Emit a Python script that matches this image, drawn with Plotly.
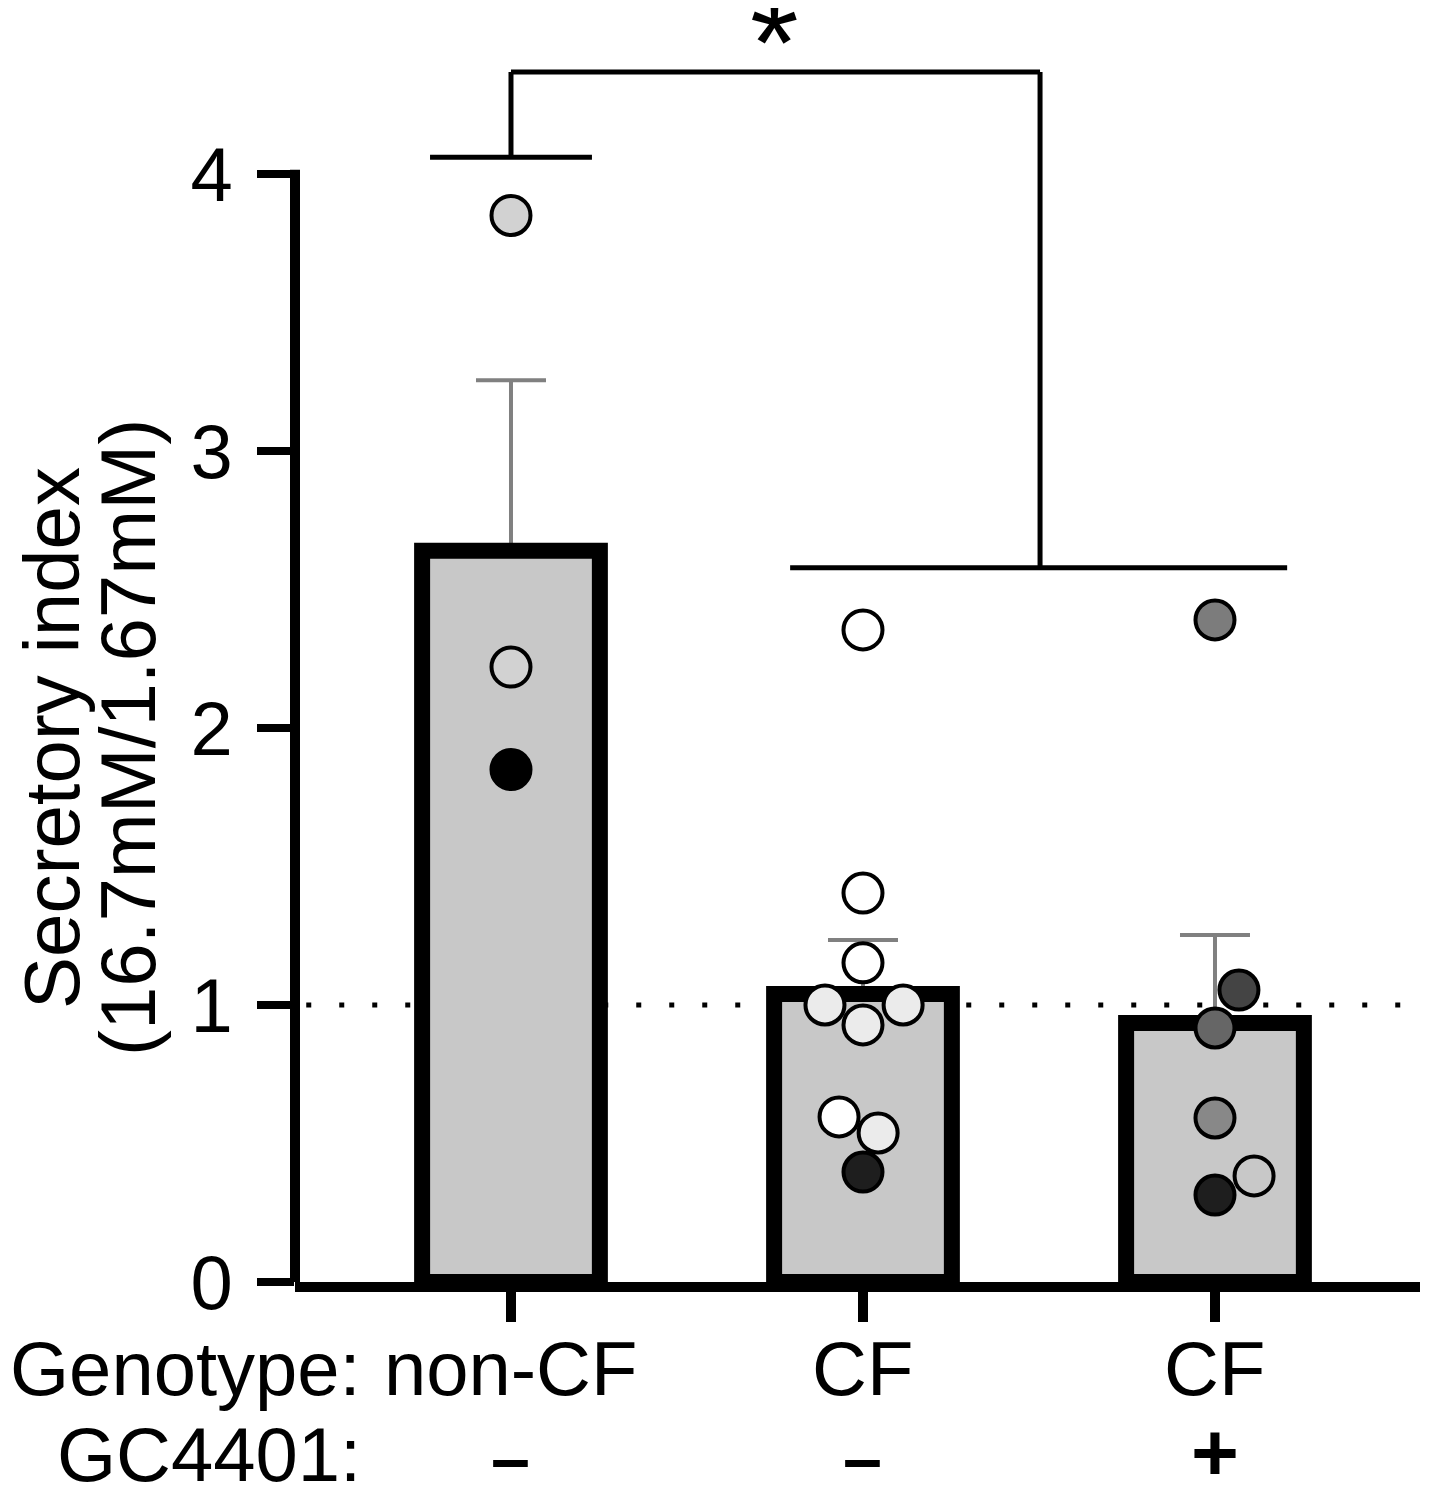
import plotly.graph_objects as go

# ---- data ----
groups = ["non-CF", "CF", "CF"]
treatment = ["–", "–", "+"]
group_pos = [0, 1, 2]
bar_means = [2.64, 1.04, 0.935]
bar_sem = [0.615, 0.195, 0.318]

noncf_y = [3.85, 2.22, 1.85]
noncf_dx = [0.0, 0.0, 0.0]
noncf_fill = ["#d2d2d2", "#d2d2d2", "#000000"]

cf_y = [2.354, 1.404, 1.152, 1.0, 1.0, 0.928, 0.596, 0.538, 0.397]
cf_dx = [0.0, 0.0, 0.0, -0.108, 0.114, 0.0, -0.068, 0.043, 0.0]
cf_fill = ["#ffffff", "#ffffff", "#ffffff", "#ebebeb", "#ebebeb", "#ebebeb",
           "#ffffff", "#ebebeb", "#1e1e1e"]

cfgc_y = [2.39, 1.054, 0.917, 0.592, 0.383, 0.314]
cfgc_dx = [0.0, 0.068, 0.0, 0.0, 0.111, 0.0]
cfgc_fill = ["#7c7c7c", "#444444", "#666666", "#888888", "#c8c8c8", "#1e1e1e"]

yticks = [0, 1, 2, 3, 4]
ref_line = 1.0
sig_low_left = 4.06
sig_top = 4.368
sig_low_right = 2.578

FONT = "Liberation Sans, Arial, sans-serif"
FS = 76

fig = go.Figure()

# error bars (drawn underneath the bar outlines)
fig.add_trace(go.Bar(
    x=group_pos, y=bar_means, width=0.505,
    marker=dict(color="rgba(0,0,0,0)", line=dict(width=0)),
    error_y=dict(type="data", array=bar_sem, arrayminus=[0, 0, 0], symmetric=False,
                 color="#808080", thickness=4, width=35),
    hoverinfo="skip",
))
fig.add_trace(go.Bar(
    x=group_pos, y=bar_means, width=0.505,
    marker=dict(color="#c8c8c8", line=dict(color="black", width=16)),
    hoverinfo="skip",
))

def add_points(pos, ys, dxs, fills):
    fig.add_trace(go.Scatter(
        x=[pos + d for d in dxs], y=ys, mode="markers",
        marker=dict(size=39, color=fills, line=dict(color="black", width=4)),
        cliponaxis=False, hoverinfo="skip",
    ))

add_points(group_pos[0], noncf_y, noncf_dx, noncf_fill)
add_points(group_pos[1], cf_y, cf_dx, cf_fill)
add_points(group_pos[2], cfgc_y, cfgc_dx, cfgc_fill)

shapes = []
# y axis line (0..4 only)
shapes.append(dict(type="line", xref="paper", yref="y", x0=0, x1=0, y0=0, y1=4.015,
                   line=dict(color="black", width=10)))
# dotted reference line
shapes.append(dict(type="line", xref="paper", yref="y", x0=0.01, x1=1, y0=ref_line, y1=ref_line,
                   line=dict(color="black", width=5, dash="5px,28px"), layer="below"))
# significance bracket
lw = dict(color="black", width=5)
shapes += [
    dict(type="line", xref="x", yref="y", x0=-0.23, x1=0.23, y0=sig_low_left, y1=sig_low_left, line=lw),
    dict(type="line", xref="x", yref="y", x0=0.0, x1=0.0, y0=sig_low_left, y1=sig_top, line=lw),
    dict(type="line", xref="x", yref="y", x0=0.0, x1=1.503, y0=sig_top, y1=sig_top, line=lw),
    dict(type="line", xref="x", yref="y", x0=1.503, x1=1.503, y0=sig_top, y1=sig_low_right, line=lw),
    dict(type="line", xref="x", yref="y", x0=0.793, x1=2.205, y0=sig_low_right, y1=sig_low_right, line=lw),
]

# figure-pixel helpers (plot area: left 287, bottom 1274, width 1125, height 1261)
H = 1261.0
def py(p):
    return (1274 - p) / H

def px(p):
    return (p - 287) / 1125.0

ann = []
ann.append(dict(text="*", x=0.75, xref="x", y=py(-37), yref="paper", yanchor="top",
                showarrow=False, font=dict(family=FONT, size=125, color="black")))
for pos, g in zip(group_pos, groups):
    ann.append(dict(text=g, x=pos, xref="x", y=py(1360), yref="paper", yanchor="middle",
                    showarrow=False, font=dict(family=FONT, size=FS, color="black")))
for pos, t in zip(group_pos, treatment):
    ann.append(dict(text="<b>%s</b>" % t, x=pos, xref="x", y=py(1491), yref="paper",
                    yanchor="bottom", showarrow=False,
                    font=dict(family=FONT, size=70 if t != "+" else 82, color="black")))
ann.append(dict(text="Genotype:", x=px(355), xref="paper", xanchor="right", y=py(1360),
                yref="paper", yanchor="middle", showarrow=False,
                font=dict(family=FONT, size=FS, color="black")))
ann.append(dict(text="GC4401:", x=px(355), xref="paper", xanchor="right", y=py(1491),
                yref="paper", yanchor="bottom", showarrow=False,
                font=dict(family=FONT, size=FS, color="black")))
ann.append(dict(text="Secretory index", x=px(44), xref="paper", xanchor="center", y=py(730),
                yref="paper", yanchor="middle", textangle=-90, showarrow=False,
                font=dict(family=FONT, size=78, color="black")))
ann.append(dict(text="(16.7mM/1.67mM)", x=px(120), xref="paper", xanchor="center", y=py(730),
                yref="paper", yanchor="middle", textangle=-90, showarrow=False,
                font=dict(family=FONT, size=78, color="black")))

fig.update_layout(
    width=1438, height=1500,
    margin=dict(l=287, r=26, t=13, b=226),
    plot_bgcolor="white", paper_bgcolor="white",
    showlegend=False, barmode="overlay",
    shapes=shapes, annotations=ann,
    xaxis=dict(range=[-0.6136, 2.5824], showline=True, linewidth=10, linecolor="black",
               ticks="outside", tickvals=group_pos, ticklen=30, tickwidth=10, tickcolor="black",
               showticklabels=False, showgrid=False, zeroline=False, fixedrange=True),
    yaxis=dict(range=[0, 4.552], showline=False, tickvals=yticks,
               ticktext=[str(v) for v in yticks], ticks="outside", ticklen=37, tickwidth=8,
               tickcolor="black", ticklabelstandoff=9,
               tickfont=dict(family=FONT, size=FS, color="black"),
               showgrid=False, zeroline=False, fixedrange=True),
)

fig.write_html("out.html")
